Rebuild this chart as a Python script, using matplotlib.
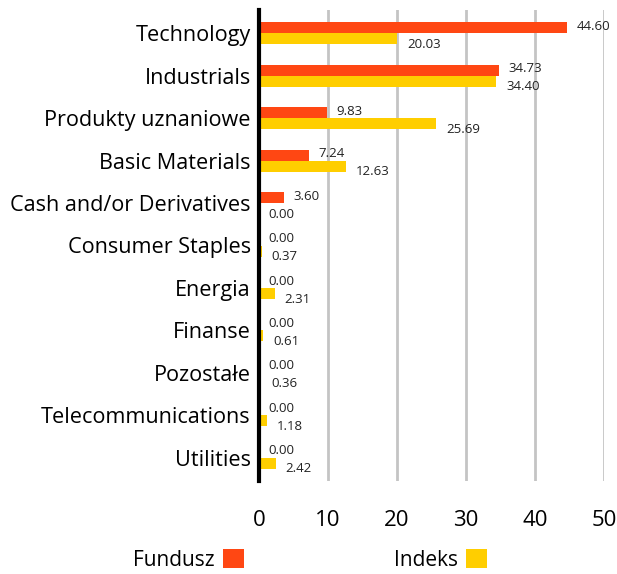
import matplotlib.pyplot as plt
import numpy as np

plt.rcParams['font.family'] = ['Open Sans', 'DejaVu Sans']

categories = ['Technology', 'Industrials', 'Produkty uznaniowe', 'Basic Materials',
              'Cash and/or Derivatives', 'Consumer Staples', 'Energia', 'Finanse',
              'Pozostałe', 'Telecommunications', 'Utilities']
fundusz = [44.60, 34.73, 9.83, 7.24, 3.60, 0.00, 0.00, 0.00, 0.00, 0.00, 0.00]
indeks = [20.03, 34.40, 25.69, 12.63, 0.00, 0.37, 2.31, 0.61, 0.36, 1.18, 2.42]
xticks = [0, 10, 20, 30, 40, 50]

orange = '#FF4713'
yellow = '#FFCE00'

fig = plt.figure(figsize=(6.17, 5.74), dpi=100)
ax = fig.add_axes([259 / 617, 1 - 481 / 574, 345 / 617, 471 / 574])

y = np.arange(len(categories))
h = 0.26
b1 = ax.barh(y - h / 2, fundusz, height=h, color=orange, zorder=3, label='Fundusz')
b2 = ax.barh(y + h / 2, indeks, height=h, color=yellow, zorder=3, label='Indeks')

for i in range(len(categories)):
    ax.annotate(f'{fundusz[i]:.2f}', (fundusz[i], y[i] - h / 2), xytext=(7, 1),
                textcoords='offset points', va='center', ha='left', fontsize=9.5, color='#222222')
    ax.annotate(f'{indeks[i]:.2f}', (indeks[i], y[i] + h / 2), xytext=(7, -4),
                textcoords='offset points', va='center', ha='left', fontsize=9.5, color='#222222')

ax.set_xlim(0, 50)
ax.set_ylim(10.55, -0.55)
ax.set_xticks(xticks)
ax.set_yticks(y)
ax.set_yticklabels(categories, fontsize=15.6)
ax.tick_params(axis='x', length=0, pad=21, labelsize=16)
ax.tick_params(axis='y', length=0, pad=6)
ax.grid(axis='x', color='#C4C4C4', lw=2, zorder=0)

for s in ['top', 'right', 'bottom']:
    ax.spines[s].set_visible(False)
ax.spines['left'].set_linewidth(3)
ax.spines['left'].set_color('black')
ax.spines['left'].set_zorder(5)

fig.legend(handles=[b1, b2], loc='center', bbox_to_anchor=(0.503, 1 - 560 / 574), ncol=2,
           frameon=False, markerfirst=False, fontsize=15, handlelength=1.0, handleheight=1.0,
           columnspacing=7.2, handletextpad=0.4)

fig.savefig('out.png', dpi=100)
